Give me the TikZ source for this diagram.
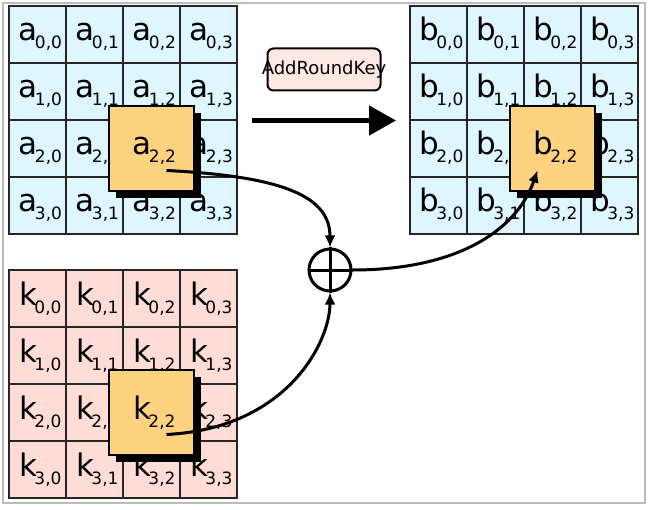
\documentclass[tikz,border=0pt]{standalone}
\usepackage{fontspec}
\setmainfont{DejaVu Sans}
\usetikzlibrary{arrows.meta,positioning,shadows}
\definecolor{aesblue}{HTML}{DDF6FF}
\definecolor{aespink}{HTML}{FFDDD6}
\definecolor{aesorange}{HTML}{FFD27F}
\definecolor{aeskey}{HTML}{FFE8E3}
\definecolor{aesframe}{HTML}{BBBBBB}
\newcommand{\entry}[3]{\hspace{6pt}#1\kern-3pt\raisebox{-8pt}{\fontsize{17pt}{17pt}\selectfont #2,#3}}

\begin{document}
\begin{tikzpicture}[x=1pt, y=-1pt,
    cell/.style={draw=black!85, line width=1.1pt, minimum size=57pt, inner sep=0pt, text height=21pt, text depth=8pt,
        font=\fontsize{31pt}{31pt}\selectfont},
    hibox/.style={draw, line width=2.5pt, fill=aesorange, minimum size=85pt, inner sep=0pt, text height=21pt, text depth=8pt,
        font=\fontsize{31pt}{31pt}\selectfont,
        drop shadow={shadow xshift=7pt, shadow yshift=-7pt, opacity=1, fill=black}},
    keybox/.style={draw, line width=2pt, rounded corners=6pt, fill=aeskey, minimum width=113pt, minimum height=42pt, inner sep=0pt, font=\fontsize{18pt}{18pt}\selectfont},
    xorop/.style={circle, draw, line width=3pt, minimum size=42pt, inner sep=0pt},
    flow/.style={-{Latex[length=12pt,width=11pt]}, line width=3pt},
    bigarrow/.style={-{Triangle[length=27pt,width=29pt]}, line width=5pt}
]
\useasboundingbox (0,0) rectangle (652,510);
\draw[aesframe, line width=1.5pt] (3,3) rectangle (645,503);

% State matrix
\foreach \r in {0,...,3}
  \foreach \c in {0,...,3}
    \node[cell, fill=aesblue] (a\r\c) at ({37.5+57*\c},{34.5+57*\r}) {\entry{a}{\r}{\c}};

% Result matrix
\foreach \r in {0,...,3}
  \foreach \c in {0,...,3}
    \node[cell, fill=aesblue] (b\r\c) at ({438.5+57*\c},{34.5+57*\r}) {\entry{b}{\r}{\c}};

% Round key matrix
\foreach \r in {0,...,3}
  \foreach \c in {0,...,3}
    \node[cell, fill=aespink] (k\r\c) at ({37.5+57*\c},{298.5+57*\r}) {\entry{k}{\r}{\c}};

% Highlighted bytes
\node[hibox] (abox) at (a22) {\entry{a}{2}{2}};
\node[hibox] (bbox) at (b22) {\entry{b}{2}{2}};
\node[hibox] (kbox) at (k22) {\entry{k}{2}{2}};

% Step label
\node[keybox] (key) at (324,69.5) {\makebox[0pt]{AddRoundKey}};
\coordinate (arrS) at ([shift={(-72,51)}]key.center);
\coordinate (arrE) at ([shift={(72,51)}]key.center);

% XOR
\node[xorop] (xor) at (330,270) {};
\draw[line width=3pt] (xor.north) -- (xor.south) (xor.west) -- (xor.east);

\coordinate (ain) at ([shift={(15,22)}]abox.center);
\coordinate (kin) at ([shift={(15,22)}]kbox.center);
\coordinate (bin) at ([shift={(-15,22)}]bbox.center);

% Arrows
\draw[bigarrow] (arrS) -- (arrE);
\draw[flow] (ain) .. controls +(120,6) and +(0,-50) .. (xor.north);
\draw[flow] (kin) .. controls +(120,-6) and +(0,50) .. (xor.south);
\draw[flow] (xor.east) .. controls +(100,0) and +(-22,63) .. (bin);
\end{tikzpicture}
\end{document}
